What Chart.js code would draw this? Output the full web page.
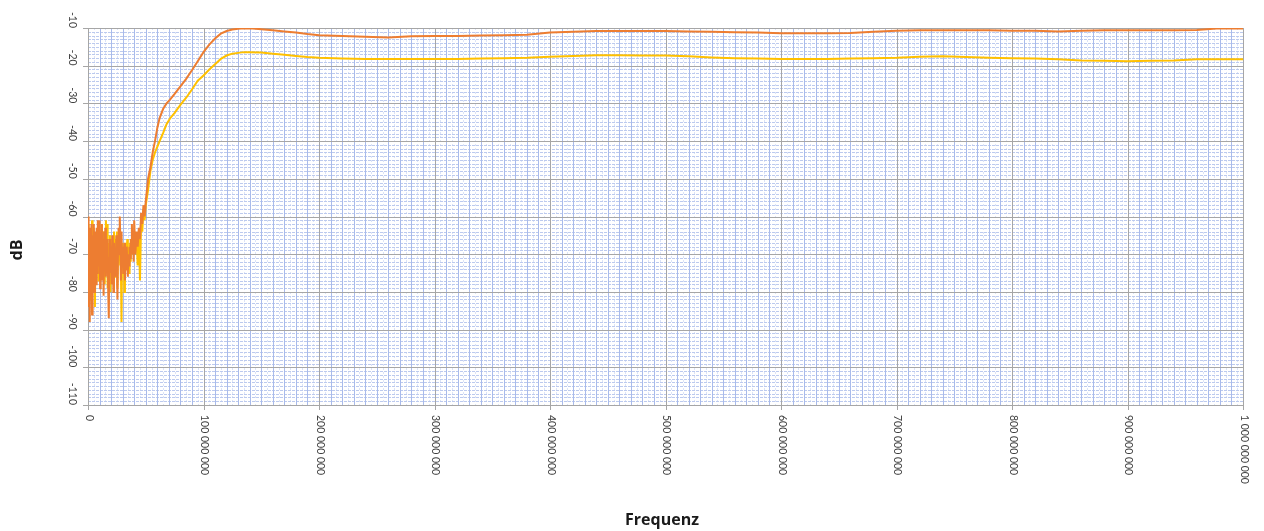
<!DOCTYPE html>
<html>
<head>
<meta charset="utf-8">
<script src="https://cdn.jsdelivr.net/npm/chart.js@4.4.1/dist/chart.umd.min.js"></script>
<style>
html,body{margin:0;padding:0;background:#fff;}
canvas{display:block;}
</style>
</head>
<body>
<canvas id="c" width="1264" height="531"></canvas>
<script>
// Frequency points in MHz
const freqMHz = [
  0,0.5,1,1.5,2,2.5,3,3.5,4,4.5,5,5.5,6,6.5,7,7.5,8,8.5,9,9.5,
  10,10.5,11,11.5,12,12.5,13,13.5,14,14.5,15,15.5,16,16.5,17,17.5,18,18.5,19,19.5,
  20,20.5,21,21.5,22,22.5,23,23.5,24,24.5,25,25.5,26,26.5,27,27.5,28,28.5,29,29.5,
  30,30.5,31,31.5,32,32.5,33,33.5,34,34.5,35,35.5,36,36.5,37,37.5,38,38.5,39,39.5,
  40,41,42,43,44,45,46,47,48,49,50,51,52,
  54,56,58,60,62,65,68,71,75,80,85,90,95,100,105,110,115,120,125,130,135,140,150,160,170,180,190,200,
  220,240,260,280,300,320,340,360,380,400,420,440,460,480,500,520,540,560,580,600,
  620,640,660,680,700,720,740,760,780,800,820,840,860,880,900,920,940,960,980,1000
];
const seriesOrange = [
  -60,-84,-66,-88,-63,-79,-62,-86,-65,-74,-62,-80,-64,-71,-78,-63,-75,-61,-73,-67,
  -61,-79,-64,-70,-62,-77,-66,-81,-64,-72,-63,-76,-68,-74,-66,-80,-87,-71,-66,-75,
  -68,-78,-65,-73,-80,-67,-74,-69,-76,-65,-71,-82,-68,-63,-70,-60,-66,-77,-64,-72,
  -68,-75,-70,-67,-77,-69,-74,-68,-72,-76,-70,-73,-68,-71,-66,-69,-62,-70,-64,-72,
  -61,-70,-64,-68,-63,-66,-59,-62,-57,-60,-56,-53,-50,
  -47,-43,-40,-36.5,-33.9,-31.5,-30,-29,-27.5,-25.5,-23.5,-21.2,-18.8,-16.4,-14.4,-12.8,-11.5,-10.8,-10.4,-10.2,-10.1,-10.1,-10.3,-10.6,-10.9,-11.2,-11.6,-11.9,
  -12.1,-12.3,-12.5,-12.2,-12.1,-12.1,-12.0,-11.9,-11.8,-11.2,-11.0,-10.8,-10.8,-10.8,-10.8,-10.9,-11.0,-11.1,-11.2,-11.4,
  -11.4,-11.4,-11.3,-11.0,-10.7,-10.6,-10.6,-10.6,-10.6,-10.7,-10.7,-10.9,-10.7,-10.6,-10.6,-10.6,-10.6,-10.5,-10.1,-10.1
];
const seriesYellow = [
  -62,-70,-79,-64,-82,-67,-74,-61,-76,-66,-63,-71,-84,-68,-65,-73,-69,-64,-77,-63,
  -70,-66,-74,-62,-69,-75,-64,-71,-67,-78,-65,-61,-72,-62,-79,-70,-67,-74,-65,-80,
  -71,-66,-74,-68,-77,-64,-70,-76,-66,-72,-64,-79,-69,-73,-67,-71,-65,-74,-88,-70,
  -67,-73,-69,-80,-71,-67,-74,-70,-66,-73,-69,-75,-70,-67,-72,-66,-70,-64,-69,-66,
  -64,-69,-66,-73,-64,-77,-61,-64,-58,-61,-57,-55,-53,
  -48,-45,-43,-41.5,-40,-37.9,-35.5,-34,-32.5,-30.4,-28.5,-26.3,-24,-22.6,-21,-19.6,-18.2,-17.3,-16.8,-16.6,-16.4,-16.4,-16.5,-16.8,-17.1,-17.4,-17.7,-17.9,
  -18.1,-18.2,-18.2,-18.2,-18.2,-18.2,-18.1,-18.0,-17.9,-17.6,-17.4,-17.2,-17.2,-17.3,-17.3,-17.5,-17.8,-18.0,-18.1,-18.2,
  -18.2,-18.2,-18.1,-18.0,-17.9,-17.6,-17.5,-17.7,-17.9,-18.0,-18.1,-18.3,-18.6,-18.7,-18.8,-18.7,-18.6,-18.3,-18.3,-18.3
];
const xTicks = [0,100000000,200000000,300000000,400000000,500000000,600000000,700000000,800000000,900000000,1000000000];
const yTicks = [-10,-20,-30,-40,-50,-60,-70,-80,-90,-100,-110];
const xTitle = 'Frequenz';
const yTitle = 'dB';

function fmtNum(v){
  return String(v).replace(/\B(?=(\d{3})+(?!\d))/g, ' ');
}

const gridPlugin = {
  id: 'excelGrid',
  beforeDatasetsDraw(chart){
    const ctx = chart.ctx, xs = chart.scales.x, ys = chart.scales.y, a = chart.chartArea;
    ctx.save();
    ctx.lineWidth = 1;
    // very light dashed vertical every 5 MHz
    ctx.strokeStyle = '#dbe3f7';
    ctx.setLineDash([2,2]);
    for(let f = 5; f < 1000; f += 10){
      const x = Math.round(xs.getPixelForValue(f*1e6)) + 0.5;
      ctx.beginPath(); ctx.moveTo(x, a.top); ctx.lineTo(x, a.bottom); ctx.stroke();
    }
    // light dashed horizontal every 1 dB
    ctx.strokeStyle = '#bccaee';
    ctx.setLineDash([3,1]);
    for(let v = -110; v <= -10; v += 1){
      if(v % 10 === 0) continue;
      const y = Math.round(ys.getPixelForValue(v)) + 0.5;
      ctx.beginPath(); ctx.moveTo(a.left, y); ctx.lineTo(a.right, y); ctx.stroke();
    }
    ctx.setLineDash([]);
    // blue vertical every 10 MHz
    ctx.strokeStyle = '#a9bbeb';
    for(let f = 10; f < 1000; f += 10){
      if(f % 100 === 0) continue;
      const x = Math.round(xs.getPixelForValue(f*1e6)) + 0.5;
      ctx.beginPath(); ctx.moveTo(x, a.top); ctx.lineTo(x, a.bottom); ctx.stroke();
    }
    // major gray
    ctx.strokeStyle = '#a6a6a6';
    yTicks.forEach(v => {
      const y = Math.round(ys.getPixelForValue(v)) + 0.5;
      ctx.beginPath(); ctx.moveTo(a.left - 5, y); ctx.lineTo(a.right, y); ctx.stroke();
    });
    xTicks.forEach(v => {
      const x = Math.round(xs.getPixelForValue(v)) + 0.5;
      ctx.beginPath(); ctx.moveTo(x, a.top); ctx.lineTo(x, a.bottom + 5); ctx.stroke();
    });
    ctx.restore();
  },
  afterDraw(chart){
    const ctx = chart.ctx, xs = chart.scales.x, ys = chart.scales.y, a = chart.chartArea;
    ctx.save();
    ctx.fillStyle = '#404040';
    ctx.font = '10.5px Lato, "Liberation Sans", sans-serif';
    // y tick labels rotated clockwise, ending at tick
    yTicks.forEach(v => {
      const y = ys.getPixelForValue(v);
      ctx.save();
      ctx.translate(a.left - 16, y);
      ctx.rotate(Math.PI/2);
      ctx.textAlign = 'right';
      ctx.textBaseline = 'middle';
      ctx.fillText(String(v), 0, 0);
      ctx.restore();
    });
    // x tick labels rotated clockwise, starting at tick
    xTicks.forEach(v => {
      const x = xs.getPixelForValue(v);
      ctx.save();
      ctx.translate(x + 1, a.bottom + 10);
      ctx.rotate(Math.PI/2);
      ctx.textAlign = 'left';
      ctx.textBaseline = 'middle';
      ctx.fillText(fmtNum(v), 0, 0);
      ctx.restore();
    });
    // titles
    ctx.fillStyle = '#1a1a1a';
    ctx.font = 'bold 16px "Open Sans", Lato, sans-serif';
    ctx.textAlign = 'center';
    ctx.textBaseline = 'middle';
    ctx.fillText(xTitle, 662, 520);
    ctx.save();
    ctx.translate(17, 250);
    ctx.rotate(-Math.PI/2);
    ctx.fillText(yTitle, 0, 0);
    ctx.restore();
    ctx.restore();
  }
};

new Chart(document.getElementById('c'), {
  type: 'line',
  data: {
    datasets: [
      {
        label: 'A',
        data: freqMHz.map((f, i) => ({x: f * 1e6, y: seriesOrange[i]})),
        borderColor: '#ED7D31',
        borderWidth: 2,
        pointRadius: 0,
        tension: 0,
        fill: false
      },
      {
        label: 'B',
        data: freqMHz.map((f, i) => ({x: f * 1e6, y: seriesYellow[i]})),
        borderColor: '#FFC000',
        borderWidth: 2,
        pointRadius: 0,
        tension: 0,
        fill: false
      }
    ]
  },
  options: {
    responsive: false,
    animation: false,
    events: [],
    layout: {padding: {left: 0, top: 28, right: 21, bottom: 0}},
    plugins: {legend: {display: false}, tooltip: {enabled: false}},
    scales: {
      x: {
        type: 'linear', min: 0, max: 1000000000,
        grid: {display: false}, border: {display: false},
        ticks: {display: false},
        afterFit: s => { s.height = 126; }
      },
      y: {
        type: 'linear', min: -110, max: -10,
        grid: {display: false}, border: {display: false},
        ticks: {display: false},
        afterFit: s => { s.width = 88; }
      }
    }
  },
  plugins: [gridPlugin]
});
</script>
</body>
</html>
